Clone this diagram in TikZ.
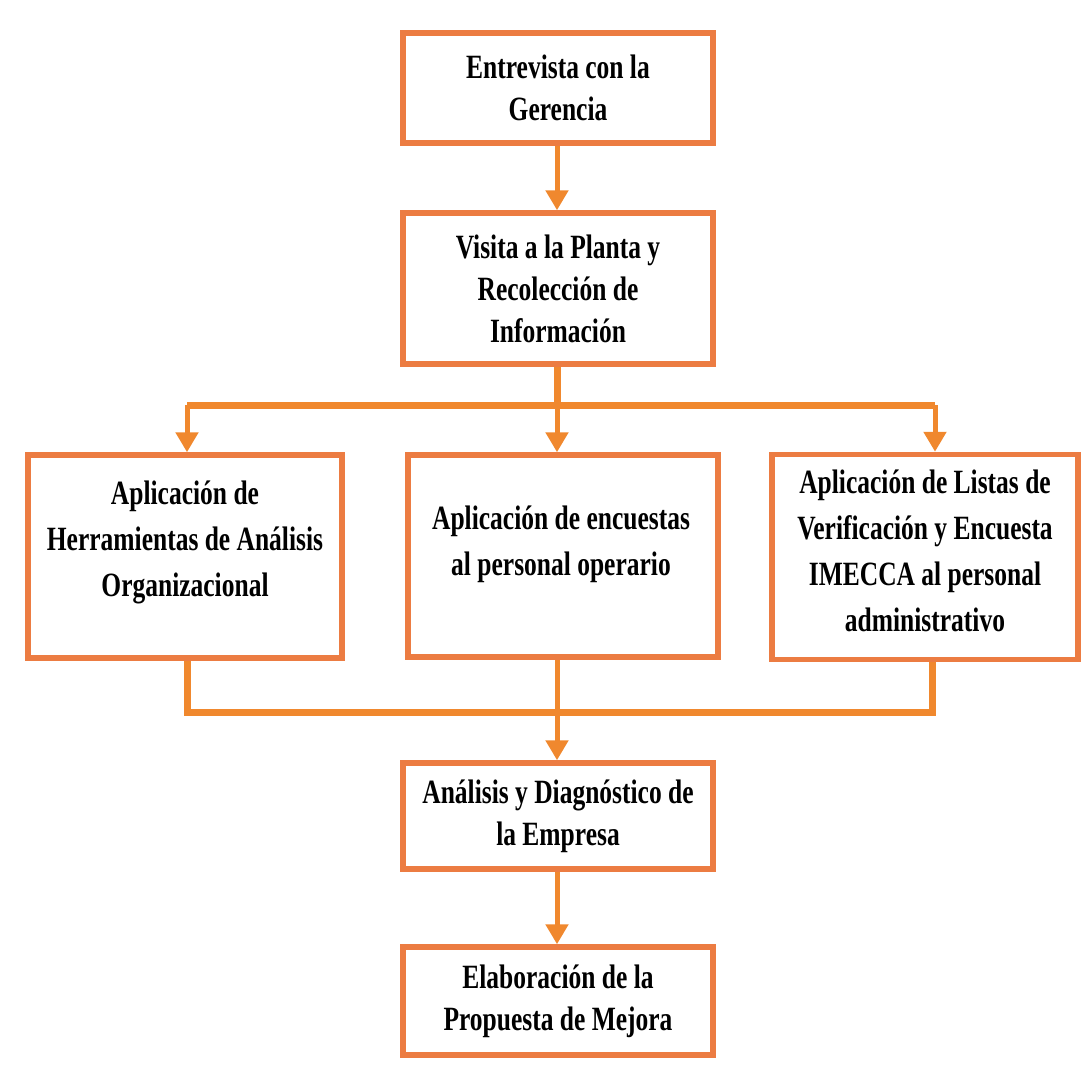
\documentclass[tikz,border=0pt]{standalone}
\usepackage{fontspec}
\setmainfont{Liberation Serif}[FakeStretch=0.75]
\usetikzlibrary{arrows.meta}
\definecolor{boxorange}{RGB}{236,124,66}
\definecolor{lineorange}{RGB}{240,136,46}
\tikzset{
  stepbox/.style={draw=boxorange, line width=5.5pt, fill=white, align=center,
    inner sep=0pt, font=\fontsize{34}{42}\selectfont\bfseries},
  rowtext/.style={font=\fontsize{34}{46}\selectfont\bfseries, align=center, inner sep=0pt},
  conn/.style={draw=lineorange, line width=7pt},
  arr/.style={draw=lineorange, line width=5pt, -{Triangle[length=20pt,width=22pt]}, fill=lineorange},
}
\begin{document}
\begin{tikzpicture}[x=1pt,y=-1pt]
\path[use as bounding box, fill=white] (0,0) rectangle (1082,1069);

\node[stepbox, minimum width=310pt, minimum height=110pt] (b1) at (558,88)
  {Entrevista con la\\Gerencia};
\node[stepbox, minimum width=310pt, minimum height=151pt] (b2) at (558,288.5)
  {Visita a la Planta y\\Recolección de\\Información};
\node[stepbox, minimum width=314pt, minimum height=203pt] (bl) at (185,556.5) {};
\node[rowtext] (tl) at (185,542)
  {Aplicación de\\Herramientas de Análisis\\Organizacional};
\node[stepbox, minimum width=310pt, minimum height=202pt] (bm) at (563,556) {};
\node[rowtext] (tm) at (561,544)
  {Aplicación de encuestas\\al personal operario};
\node[stepbox, minimum width=306pt, minimum height=205pt] (br) at (925,557) {};
\node[rowtext] (tr) at (925,551)
  {Aplicación de Listas de\\Verificación y Encuesta\\IMECCA al personal\\administrativo};
\node[stepbox, minimum width=310pt, minimum height=106pt] (b5) at (558,816)
  {Análisis y Diagnóstico de\\la Empresa};
\node[stepbox, minimum width=310pt, minimum height=108pt] (b6) at (558,1001)
  {Elaboración de la\\Propuesta de Mejora};

\coordinate (jl) at (187,405);
\coordinate (jm) at (557,405);
\coordinate (jr) at (935,405);
\coordinate (kl) at (187,712);
\coordinate (km) at (557,712);
\coordinate (kr) at (932,712);

\draw[arr] (557,0 |- b1.south) -- (557,0 |- b2.north);
\draw[conn] (557,0 |- b2.south) -- (jm);
\draw[conn] (jl) -- (jr);
\draw[arr] (jl) -- (jl |- bl.north);
\draw[arr] (jm) -- (jm |- bm.north);
\draw[arr] (jr) -- (jr |- br.north);
\draw[conn] (kl |- bl.south) -- (kl) -- (kr) -- (kr |- br.south);
\draw[arr] (km |- bm.south) -- (km |- b5.north);
\draw[arr] (557,0 |- b5.south) -- (557,0 |- b6.north);
\end{tikzpicture}
\end{document}
